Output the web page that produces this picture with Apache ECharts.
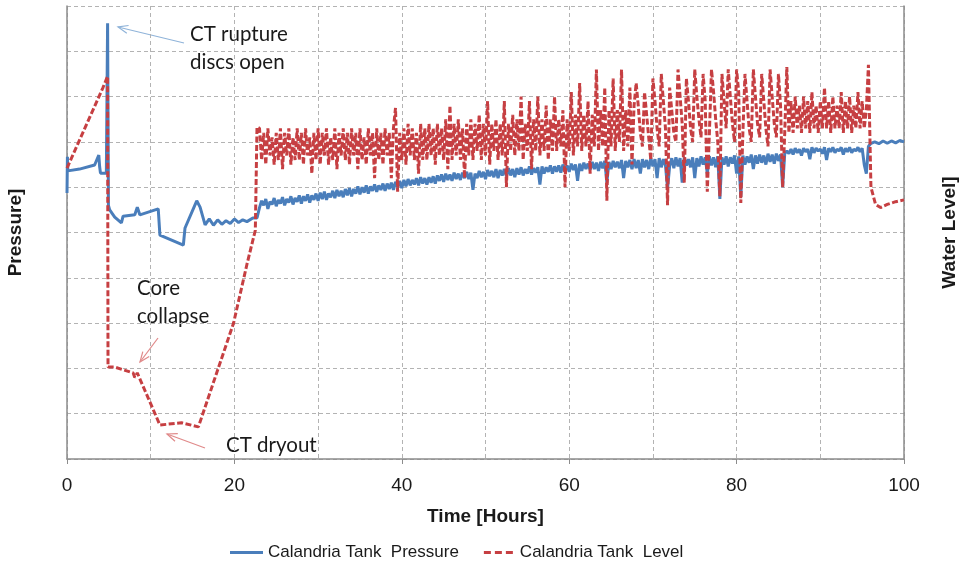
<!DOCTYPE html>
<html>
<head>
<meta charset="utf-8">
<script src="https://cdn.jsdelivr.net/npm/echarts@6/dist/echarts.min.js"></script>
<style>
  html, body { margin: 0; padding: 0; background: #fff; }
  #chart { width: 963px; height: 574px; }
</style>
</head>
<body>
<div id="chart"></div>
<script>
// 早期段（0~22.7h），逐点读图
var earlyPressureT = [0, 0.05, 0.1, 1.5, 3.3, 3.8, 3.9, 4.0, 4.7, 4.8, 4.85, 4.95, 5.1, 5.7, 6.5, 6.7, 8.1, 8.4, 8.7, 10.9, 11.1, 13.9, 14.1, 15.5, 15.9, 16.5, 17, 17.5, 18, 18.5, 19, 19.5, 20, 20.5, 21, 21.5, 22.2, 22.7];
var earlyPressure  = [5.87, 6.67, 6.36, 6.4, 6.49, 6.71, 6.45, 6.31, 6.31, 6.31, 9.62, 5.6, 5.5, 5.34, 5.21, 5.36, 5.39, 5.56, 5.39, 5.52, 4.94, 4.72, 5.1, 5.7, 5.56, 5.17, 5.3, 5.16, 5.28, 5.18, 5.26, 5.2, 5.3, 5.22, 5.28, 5.24, 5.32, 5.32];

var earlyLevelT = [0, 4.3, 4.85, 4.9, 5.7, 7.9, 8.1, 8.4, 11.1, 13.7, 15.7, 19.9, 21.5, 22.5, 22.7];
var earlyLevel  = [6.42, 8.2, 8.45, 2.03, 2.03, 1.9, 1.8, 1.9, 0.75, 0.8, 0.71, 3.0, 4.3, 5.05, 7.33];

// 振荡段（23~95.75h，每0.25h一点）
var midT = [
  23, 23.25, 23.5, 23.75, 24, 24.25, 24.5, 24.75, 25, 25.25, 25.5, 25.75, 26, 26.25, 26.5, 26.75, 27, 27.25, 27.5, 27.75,
  28, 28.25, 28.5, 28.75, 29, 29.25, 29.5, 29.75, 30, 30.25, 30.5, 30.75, 31, 31.25, 31.5, 31.75, 32, 32.25, 32.5, 32.75,
  33, 33.25, 33.5, 33.75, 34, 34.25, 34.5, 34.75, 35, 35.25, 35.5, 35.75, 36, 36.25, 36.5, 36.75, 37, 37.25, 37.5, 37.75,
  38, 38.25, 38.5, 38.75, 39, 39.25, 39.5, 39.75, 40, 40.25, 40.5, 40.75, 41, 41.25, 41.5, 41.75, 42, 42.25, 42.5, 42.75,
  43, 43.25, 43.5, 43.75, 44, 44.25, 44.5, 44.75, 45, 45.25, 45.5, 45.75, 46, 46.25, 46.5, 46.75, 47, 47.25, 47.5, 47.75,
  48, 48.25, 48.5, 48.75, 49, 49.25, 49.5, 49.75, 50, 50.25, 50.5, 50.75, 51, 51.25, 51.5, 51.75, 52, 52.25, 52.5, 52.75,
  53, 53.25, 53.5, 53.75, 54, 54.25, 54.5, 54.75, 55, 55.25, 55.5, 55.75, 56, 56.25, 56.5, 56.75, 57, 57.25, 57.5, 57.75,
  58, 58.25, 58.5, 58.75, 59, 59.25, 59.5, 59.75, 60, 60.25, 60.5, 60.75, 61, 61.25, 61.5, 61.75, 62, 62.25, 62.5, 62.75,
  63, 63.25, 63.5, 63.75, 64, 64.25, 64.5, 64.75, 65, 65.25, 65.5, 65.75, 66, 66.25, 66.5, 66.75, 67, 67.25, 67.5, 67.75,
  68, 68.25, 68.5, 68.75, 69, 69.25, 69.5, 69.75, 70, 70.25, 70.5, 70.75, 71, 71.25, 71.5, 71.75, 72, 72.25, 72.5, 72.75,
  73, 73.25, 73.5, 73.75, 74, 74.25, 74.5, 74.75, 75, 75.25, 75.5, 75.75, 76, 76.25, 76.5, 76.75, 77, 77.25, 77.5, 77.75,
  78, 78.25, 78.5, 78.75, 79, 79.25, 79.5, 79.75, 80, 80.25, 80.5, 80.75, 81, 81.25, 81.5, 81.75, 82, 82.25, 82.5, 82.75,
  83, 83.25, 83.5, 83.75, 84, 84.25, 84.5, 84.75, 85, 85.25, 85.5, 85.75, 86, 86.25, 86.5, 86.75, 87, 87.25, 87.5, 87.75,
  88, 88.25, 88.5, 88.75, 89, 89.25, 89.5, 89.75, 90, 90.25, 90.5, 90.75, 91, 91.25, 91.5, 91.75, 92, 92.25, 92.5, 92.75,
  93, 93.25, 93.5, 93.75, 94, 94.25, 94.5, 94.75, 95, 95.25, 95.5, 95.75
];
var midPressure = [
  5.55, 5.70, 5.60, 5.74, 5.52, 5.68, 5.62, 5.76, 5.58, 5.72, 5.64, 5.78, 5.60, 5.74, 5.66, 5.80, 5.62, 5.76, 5.68, 5.82,
  5.64, 5.80, 5.70, 5.84, 5.66, 5.82, 5.72, 5.86, 5.70, 5.88, 5.74, 5.90, 5.72, 5.86, 5.78, 5.92, 5.76, 5.94, 5.80, 5.92,
  5.78, 5.96, 5.82, 5.98, 5.80, 5.96, 5.86, 6.02, 5.84, 6.00, 5.88, 6.04, 5.86, 6.02, 5.92, 6.06, 5.90, 6.04, 5.94, 6.08,
  5.92, 6.08, 5.96, 6.10, 5.94, 6.12, 6.00, 6.14, 5.98, 6.16, 6.02, 6.18, 6.04, 6.16, 6.06, 6.20, 6.04, 6.22, 6.08, 6.20,
  6.06, 6.22, 6.10, 6.24, 6.08, 6.26, 6.14, 6.28, 6.12, 6.30, 6.16, 6.28, 6.14, 6.32, 6.18, 6.30, 6.16, 6.32, 6.20, 6.34,
  6.18, 6.32, 5.94, 6.30, 6.20, 6.36, 6.22, 6.34, 6.18, 6.38, 6.24, 6.36, 6.22, 6.40, 6.20, 6.38, 6.26, 6.40, 6.24, 6.42,
  6.26, 6.40, 6.22, 6.42, 6.28, 6.44, 6.26, 6.40, 6.30, 6.46, 6.28, 6.42, 6.32, 6.44, 6.06, 6.46, 6.30, 6.44, 6.34, 6.48,
  6.30, 6.46, 6.34, 6.48, 6.32, 6.50, 6.36, 6.48, 6.34, 6.52, 6.38, 6.50, 6.14, 6.52, 6.36, 6.54, 6.40, 6.52, 6.38, 6.56,
  6.40, 6.54, 6.36, 6.56, 6.42, 6.58, 6.10, 6.56, 6.40, 6.58, 6.44, 6.56, 6.42, 6.60, 6.20, 6.58, 6.44, 6.60, 6.40, 6.62,
  6.42, 6.60, 6.30, 6.62, 6.44, 6.60, 6.40, 6.64, 6.46, 6.62, 6.20, 6.64, 6.44, 6.62, 6.48, 5.98, 6.46, 6.64, 6.42, 6.66,
  6.46, 6.64, 6.10, 6.66, 6.48, 6.62, 6.44, 6.66, 6.20, 6.64, 6.46, 6.68, 6.50, 6.66, 6.30, 6.68, 6.48, 6.66, 6.44, 6.68,
  5.74, 6.66, 6.50, 6.68, 6.46, 6.66, 6.52, 6.70, 6.30, 6.68, 5.78, 6.70, 6.50, 6.68, 6.54, 6.72, 6.40, 6.70, 6.52, 6.72,
  6.54, 6.70, 6.50, 6.74, 6.56, 6.72, 6.52, 6.74, 6.58, 6.72, 6.00, 6.74, 6.80, 6.74, 6.84, 6.72, 6.86, 6.76, 6.84, 6.70,
  6.86, 6.78, 6.84, 6.62, 6.88, 6.76, 6.86, 6.80, 6.84, 6.74, 6.88, 6.60, 6.86, 6.78, 6.88, 6.76, 6.84, 6.80, 6.88, 6.72,
  6.86, 6.78, 6.88, 6.76, 6.84, 6.80, 6.88, 6.78, 6.86, 6.50, 6.30, 6.90
];
var midLevel = [
  7.3, 6.6, 7.2, 6.5, 7.3, 6.7, 7.1, 6.5, 7.2, 6.6, 7.3, 6.4, 7.2, 6.7, 7.3, 6.5, 7.1, 6.6, 7.3, 6.6,
  7.2, 6.5, 7.3, 6.7, 7.1, 6.3, 7.2, 6.6, 7.3, 6.5, 7.2, 6.7, 7.3, 6.5, 7.1, 6.6, 7.3, 6.4, 7.2, 6.7,
  7.3, 6.6, 7.2, 6.5, 7.3, 6.7, 7.2, 6.4, 7.3, 6.6, 7.1, 6.5, 7.3, 6.7, 7.2, 6.2, 7.3, 6.6, 7.2, 6.5,
  7.3, 6.7, 7.2, 6.2, 7.3, 7.75, 5.9, 7.2, 6.6, 7.3, 6.5, 7.4, 6.7, 7.3, 6.6, 7.2, 6.3, 7.4, 6.6, 7.3,
  6.6, 7.4, 6.7, 7.3, 6.5, 7.4, 6.7, 7.3, 6.6, 7.5, 6.4, 7.8, 6.6, 7.4, 6.7, 7.5, 6.6, 7.3, 6.2, 7.4,
  6.7, 7.5, 6.6, 7.4, 6.8, 7.6, 6.6, 7.4, 6.7, 7.9, 6.5, 7.4, 6.8, 7.5, 6.6, 7.4, 6.7, 7.9, 6.0, 7.4,
  6.8, 7.6, 6.7, 7.5, 6.8, 8.0, 6.6, 7.4, 6.8, 7.9, 6.4, 7.5, 6.8, 8.0, 6.7, 7.5, 6.8, 7.8, 6.6, 7.5,
  6.8, 8.0, 6.8, 7.5, 6.9, 7.7, 6.0, 7.5, 6.8, 8.1, 6.7, 7.6, 6.9, 8.3, 6.8, 7.6, 6.9, 7.9, 6.3, 7.6,
  6.9, 8.6, 6.8, 7.7, 6.9, 8.2, 5.7, 7.7, 6.9, 8.4, 6.8, 7.7, 7.0, 8.6, 6.8, 7.7, 6.9, 8.2, 6.5, 7.8,
  8.3, 7.8, 7.2, 6.9, 8.1, 7.6, 7.1, 6.6, 8.4, 7.9, 7.3, 6.9, 8.5, 7.9, 7.3, 5.6, 8.2, 7.7, 7.2, 7.0,
  8.6, 8.0, 7.4, 6.1, 8.4, 7.9, 7.3, 7.0, 8.6, 8.0, 7.5, 7.1, 8.5, 7.9, 5.9, 7.2, 8.6, 8.1, 7.5, 7.0,
  5.8, 8.5, 7.9, 7.3, 8.6, 8.0, 7.4, 7.0, 8.6, 8.1, 5.65, 7.2, 8.5, 7.9, 7.3, 7.0, 8.6, 8.0, 7.4, 7.1,
  8.5, 7.9, 7.3, 6.9, 8.6, 8.0, 7.4, 7.1, 8.5, 7.8, 6.0, 7.2, 8.65, 7.2, 7.9, 7.2, 8.0, 7.3, 7.8, 7.2,
  8.0, 7.3, 7.9, 7.2, 8.1, 7.3, 7.8, 7.2, 7.9, 7.3, 8.2, 7.3, 7.9, 7.2, 8.0, 7.3, 7.8, 7.3, 8.1, 7.2,
  7.9, 7.3, 8.0, 7.2, 7.8, 7.3, 8.1, 7.3, 7.9, 7.3, 7.7, 8.7
];

// 末段（96~100h）
var latePressureT = [96, 96.5, 97, 97.5, 98, 98.5, 99, 99.5, 100];
var latePressure  = [6.96, 7.0, 6.96, 7.02, 6.97, 7.02, 6.98, 7.03, 7.0];
var lateLevelT = [96.05, 96.6, 97.2, 98, 99, 100];
var lateLevel  = [6.0, 5.62, 5.55, 5.62, 5.68, 5.72];

var xTicks = [0, 20, 40, 60, 80, 100];

function pairs(t, v) {
  var out = [];
  for (var i = 0; i < t.length; i++) out.push([t[i], v[i]]);
  return out;
}

var pressureData = pairs(earlyPressureT, earlyPressure)
  .concat(pairs(midT, midPressure))
  .concat(pairs(latePressureT, latePressure));
var levelData = pairs(earlyLevelT, earlyLevel)
  .concat(pairs(midT, midLevel))
  .concat(pairs(lateLevelT, lateLevel));

var blue = '#4a7ebb';
var red = '#c63f42';
var txt = '#1a1a1a';
var axisFont = '"Liberation Sans", Arial, sans-serif';
var annoFont = 'Lato, "Open Sans", sans-serif';

var myChart = echarts.init(document.getElementById('chart'));
var option = {
  backgroundColor: '#fff',
  animation: false,
  grid: { left: 67, right: 59, top: 6, bottom: 115, containLabel: false, outerBoundsMode: 'none' },
  legend: {
    bottom: 8,
    left: 225,
    itemWidth: 33,
    itemHeight: 3,
    itemGap: 25,
    textStyle: { color: txt, fontSize: 17, fontFamily: axisFont },
    data: [
      { name: 'Calandria Tank  Pressure', icon: 'path://M0,0h33v3H0z' },
      { name: 'Calandria Tank  Level', icon: 'path://M0,0h7v3H0z M11,0h7v3h-7z M22,0h7v3h-7z' }
    ]
  },
  xAxis: {
    type: 'value',
    min: 0,
    max: 100,
    interval: 20,
    name: 'Time [Hours]',
    nameLocation: 'middle',
    nameGap: 48,
    nameTextStyle: { color: txt, fontSize: 19, fontWeight: 'bold', fontFamily: axisFont },
    axisLine: { show: true, lineStyle: { color: '#8c8c8c', width: 1.5 } },
    axisTick: { show: true, length: 5, lineStyle: { color: '#8c8c8c' } },
    axisLabel: {
      color: txt, fontSize: 19, margin: 17, fontFamily: axisFont,
      formatter: function (v) { return xTicks.indexOf(v) >= 0 ? String(v) : ''; }
    },
    splitLine: { show: true, lineStyle: { color: '#b3b3b3', type: [4, 3], width: 1 } },
    minorTick: { show: false, splitNumber: 2 },
    minorSplitLine: { show: true, lineStyle: { color: '#b3b3b3', type: [4, 3], width: 1 } }
  },
  yAxis: [{
    type: 'value',
    min: 0,
    max: 10,
    interval: 1,
    name: 'Pressure]',
    nameLocation: 'middle',
    nameRotate: 90,
    nameGap: 42,
    nameTextStyle: { color: txt, fontSize: 19, fontWeight: 'bold', fontFamily: axisFont },
    axisLine: { show: true, lineStyle: { color: '#8c8c8c', width: 1.5 } },
    axisTick: { show: false },
    axisLabel: { show: false },
    splitLine: { show: true, lineStyle: { color: '#b3b3b3', type: [4, 3], width: 1 } }
  }, {
    type: 'value',
    min: 0,
    max: 10,
    interval: 1,
    position: 'right',
    name: 'Water Level]',
    nameLocation: 'middle',
    nameRotate: 90,
    nameGap: 36,
    nameTextStyle: { color: txt, fontSize: 19, fontWeight: 'bold', fontFamily: axisFont },
    axisLine: { show: true, lineStyle: { color: '#8c8c8c', width: 1.5 } },
    axisTick: { show: false },
    axisLabel: { show: false },
    splitLine: { show: false }
  }],
  series: [{
    name: 'Calandria Tank  Pressure',
    type: 'line',
    yAxisIndex: 0,
    symbol: 'none',
    data: pressureData,
    lineStyle: { color: blue, width: 3 },
    itemStyle: { color: blue }
  }, {
    name: 'Calandria Tank  Level',
    type: 'line',
    yAxisIndex: 1,
    symbol: 'none',
    data: levelData,
    lineStyle: { color: red, width: 3, type: [6, 2.5] },
    itemStyle: { color: red }
  }],
  graphic: [
    { type: 'text', left: 190, top: 24, style: { text: 'CT rupture', fill: txt, font: '20.5px ' + annoFont } },
    { type: 'text', left: 190, top: 52, style: { text: 'discs open', fill: txt, font: '20.5px ' + annoFont } },
    { type: 'line', shape: { x1: 184, y1: 43, x2: 118, y2: 27 }, style: { stroke: '#8fb3d9', lineWidth: 1.2 } },
    { type: 'polyline', shape: { points: [[128.6, 25.5], [118, 27], [126.8, 33.3]] }, style: { stroke: '#8fb3d9', lineWidth: 1.2, fill: null } },

    { type: 'text', left: 137, top: 278, style: { text: 'Core', fill: txt, font: '20.5px ' + annoFont } },
    { type: 'text', left: 137, top: 306, style: { text: 'collapse', fill: txt, font: '20.5px ' + annoFont } },
    { type: 'line', shape: { x1: 158, y1: 338, x2: 140, y2: 362 }, style: { stroke: '#e08a8a', lineWidth: 1.2 } },
    { type: 'polyline', shape: { points: [[149.2, 356.4], [140, 362], [142.8, 351.6]] }, style: { stroke: '#e08a8a', lineWidth: 1.2, fill: null } },

    { type: 'text', left: 226, top: 435, style: { text: 'CT dryout', fill: txt, font: '20.5px ' + annoFont } },
    { type: 'line', shape: { x1: 205, y1: 448, x2: 167, y2: 434 }, style: { stroke: '#e08a8a', lineWidth: 1.2 } },
    { type: 'polyline', shape: { points: [[177.8, 433.7], [167, 434], [175, 441.3]] }, style: { stroke: '#e08a8a', lineWidth: 1.2, fill: null } }
  ]
};
myChart.setOption(option);
window.onresize = function () {
  myChart.resize();
};
</script>
</body>
</html>
